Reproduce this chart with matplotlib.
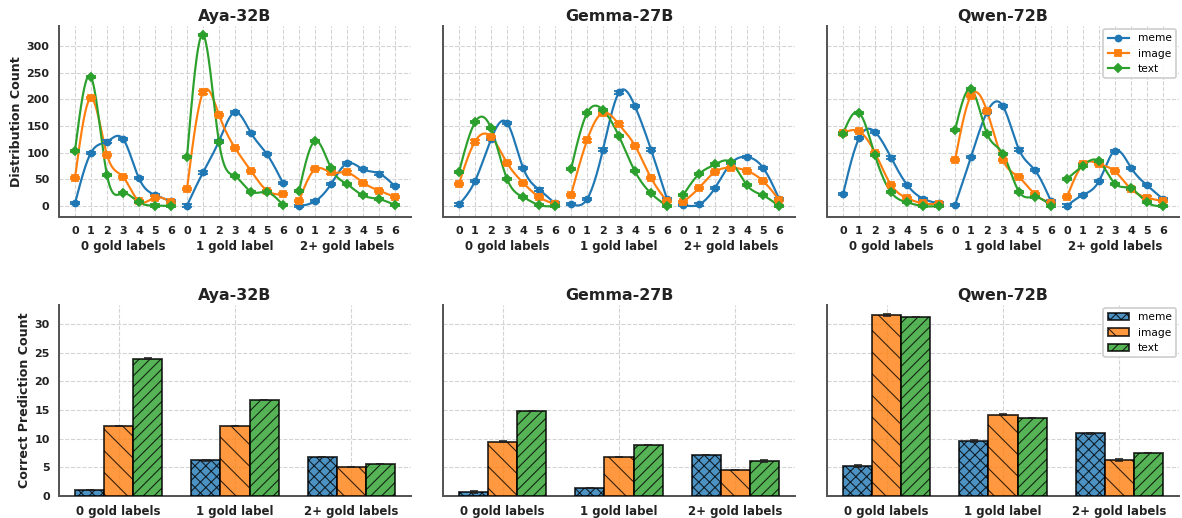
import numpy as np
import matplotlib
matplotlib.use("Agg")
import matplotlib.pyplot as plt
from matplotlib.lines import Line2D

# ---------------- data ----------------
MODELS = ["Aya-32B", "Gemma-27B", "Qwen-72B"]
GROUPS = ["0 gold labels", "1 gold label", "2+ gold labels"]
SERIES = ["meme", "image", "text"]
COUNT_LABELS = ["0", "1", "2", "3", "4", "5", "6"]

aya_meme = [5, 100, 121, 126, 52, 21, 9, 1, 63, 122, 176, 137, 97, 43, 0, 9, 41, 80, 69, 61, 37]
aya_image = [53, 202, 96, 55, 9, 16, 7, 32, 213, 171, 109, 66, 29, 22, 10, 69, 63, 63, 44, 29, 17]
aya_text = [104, 242, 58, 24, 7, 1, 0, 92, 321, 120, 56, 27, 26, 2, 28, 122, 71, 41, 20, 13, 2]

gemma_meme = [3, 47, 125, 156, 72, 31, 5, 4, 13, 106, 213, 187, 106, 13, 2, 3, 34, 80, 92, 72, 14]
gemma_image = [42, 121, 130, 81, 44, 17, 4, 21, 123, 175, 153, 113, 53, 9, 7, 34, 64, 72, 66, 47, 12]
gemma_text = [64, 157, 146, 51, 17, 2, 0, 69, 174, 180, 131, 65, 24, 0, 20, 60, 78, 82, 39, 20, 0]

qwen_meme = [22, 127, 139, 91, 40, 14, 5, 2, 92, 176, 187, 106, 67, 9, 1, 21, 47, 104, 72, 39, 13]
qwen_image = [137, 140, 100, 40, 15, 5, 4, 86, 207, 178, 86, 54, 22, 6, 17, 78, 79, 65, 32, 16, 9]
qwen_text = [136, 175, 95, 26, 7, 0, 0, 142, 219, 136, 98, 27, 17, 1, 51, 76, 84, 42, 33, 7, 0]

DIST_ERR = 2.0

aya_correct_meme = [1.1, 6.2, 6.85]
aya_correct_image = [12.2, 12.2, 5.1]
aya_correct_text = [23.9, 16.7, 5.5]
aya_err_meme = [0.0, 0.1, 0.0]
aya_err_image = [0.0, 0.0, 0.0]
aya_err_text = [0.1, 0.0, 0.0]

gemma_correct_meme = [0.7, 1.45, 7.2]
gemma_correct_image = [9.46, 6.8, 4.47]
gemma_correct_text = [14.74, 8.94, 6.04]
gemma_err_meme = [0.15, 0.0, 0.0]
gemma_err_image = [0.1, 0.0, 0.0]
gemma_err_text = [0.0, 0.0, 0.15]

qwen_correct_meme = [5.22, 9.58, 10.9]
qwen_correct_image = [31.5, 14.16, 6.27]
qwen_correct_text = [31.2, 13.58, 7.43]
qwen_err_meme = [0.1, 0.2, 0.15]
qwen_err_image = [0.15, 0.05, 0.15]
qwen_err_text = [0.0, 0.0, 0.0]

dist = {
    "Aya-32B": [aya_meme, aya_image, aya_text],
    "Gemma-27B": [gemma_meme, gemma_image, gemma_text],
    "Qwen-72B": [qwen_meme, qwen_image, qwen_text],
}
correct = {
    "Aya-32B": [aya_correct_meme, aya_correct_image, aya_correct_text],
    "Gemma-27B": [gemma_correct_meme, gemma_correct_image, gemma_correct_text],
    "Qwen-72B": [qwen_correct_meme, qwen_correct_image, qwen_correct_text],
}
correct_err = {
    "Aya-32B": [aya_err_meme, aya_err_image, aya_err_text],
    "Gemma-27B": [gemma_err_meme, gemma_err_image, gemma_err_text],
    "Qwen-72B": [qwen_err_meme, qwen_err_image, qwen_err_text],
}

COLORS = ["#1f77b4", "#ff7f0e", "#2ca02c"]
MARKERS = ["o", "s", "D"]
HATCHES = ["xxxx", "\\\\", "////"]

DPI = 130
W, H = 1182, 518
plt.rcParams.update({
    "font.family": "DejaVu Sans",
    "hatch.linewidth": 0.6,
    "axes.edgecolor": "#555555",
    "axes.linewidth": 1.1,
})

fig = plt.figure(figsize=(W / DPI, H / DPI), dpi=DPI)

TICK_FS = 6.2
GROUP_FS = 6.5
TITLE_FS = 8.8
LABEL_FS = 7.0
LEG_FS = 5.9


def px_axes(left, top, width, height):
    return fig.add_axes([left / W, 1 - (top + height) / H, width / W, height / H])


def smooth(y, n=40):
    y = np.asarray(y, float)
    m = len(y)
    A = np.zeros((m, m))
    b = np.zeros(m)
    A[0, 0] = 1
    A[-1, -1] = 1
    for i in range(1, m - 1):
        A[i, i - 1:i + 2] = [1, 4, 1]
        b[i] = 6 * (y[i + 1] - 2 * y[i] + y[i - 1])
    M = np.linalg.solve(A, b)
    t = np.linspace(0, m - 1, n * (m - 1) + 1)
    i = np.minimum(t.astype(int), m - 2)
    s = t - i
    val = ((1 - s) * y[i] + s * y[i + 1]
           + ((1 - s) ** 3 - (1 - s)) * M[i] / 6 + (s ** 3 - s) * M[i + 1] / 6)
    return t, val


def style_axes(ax, pad):
    for side in ["top", "right"]:
        ax.spines[side].set_visible(False)
    ax.grid(True, linestyle="--", color="#d3d3d3", linewidth=0.6)
    ax.set_axisbelow(True)
    ax.tick_params(length=0, pad=pad, labelsize=TICK_FS)
    for lab in ax.get_xticklabels() + ax.get_yticklabels():
        lab.set_fontweight("bold")
        lab.set_color("#222222")


lefts = [59, 443, 827]
AX_W = 352
ncount = len(COUNT_LABELS)

top_axes = []
for k, model in enumerate(MODELS):
    ax = px_axes(lefts[k], 26, AX_W, 190.5)
    top_axes.append(ax)
    for s, (name, vals) in enumerate(zip(SERIES, dist[model])):
        for g in range(len(GROUPS)):
            seg = vals[g * ncount:(g + 1) * ncount]
            x0 = g * ncount
            t, v = smooth(seg)
            ax.plot(t + x0, v, color=COLORS[s], lw=1.2, zorder=3)
            ax.errorbar(np.arange(ncount) + x0, seg, yerr=DIST_ERR,
                        fmt=MARKERS[s], color=COLORS[s], ms=3.3,
                        capsize=2.8, elinewidth=1.0, capthick=1.0, zorder=4)
    positions = np.arange(ncount * len(GROUPS))
    ax.set_xticks(positions)
    ax.set_xticklabels(COUNT_LABELS * len(GROUPS))
    ax.set_xlim(-1, positions[-1] + 1)
    ax.set_ylim(-19.5, 337.5)
    ax.set_yticks([0, 50, 100, 150, 200, 250, 300])
    style_axes(ax, 5.3)
    if k > 0:
        ax.set_yticklabels([])
    else:
        ax.set_ylabel("Distribution Count", fontsize=LABEL_FS, fontweight="bold",
                      color="#222222", labelpad=2)
    for g, gname in enumerate(GROUPS):
        ax.text(g * ncount + (ncount - 1) / 2, -0.157, gname,
                transform=ax.get_xaxis_transform(), ha="center", va="center",
                fontsize=GROUP_FS, fontweight="bold", color="#222222")
    ax.set_title(model, fontsize=TITLE_FS, fontweight="bold", color="#222222", pad=3)

handles = [Line2D([], [], color=COLORS[s], marker=MARKERS[s], lw=1.2, ms=3.3)
           for s in range(len(SERIES))]
top_axes[2].legend(handles, SERIES, loc="upper right", fontsize=LEG_FS,
                   borderaxespad=0.3, framealpha=0.9, edgecolor="#cccccc")

BAR_W = 0.25
for k, model in enumerate(MODELS):
    ax = px_axes(lefts[k], 305, AX_W, 191)
    xg = np.arange(len(GROUPS))
    for s, name in enumerate(SERIES):
        ax.bar(xg + (s - 1) * BAR_W, correct[model][s], BAR_W,
               yerr=correct_err[model][s], color=COLORS[s], alpha=0.8,
               hatch=HATCHES[s], edgecolor="black", linewidth=1.0, label=name,
               error_kw=dict(ecolor="#222222", capsize=2.2, elinewidth=0.9, capthick=0.9),
               zorder=3)
    ax.set_xticks(xg)
    ax.set_xticklabels(GROUPS)
    ax.set_ylim(0, 33.3)
    ax.set_yticks([0, 5, 10, 15, 20, 25, 30])
    style_axes(ax, 5.0)
    for lab in ax.get_xticklabels():
        lab.set_fontsize(GROUP_FS)
    if k > 0:
        ax.set_yticklabels([])
    else:
        ax.set_ylabel("Correct Prediction Count", fontsize=LABEL_FS, fontweight="bold",
                      color="#222222", labelpad=2)
    ax.set_title(model, fontsize=TITLE_FS, fontweight="bold", color="#222222", pad=3)
    if k == 2:
        ax.legend(loc="upper right", fontsize=LEG_FS, borderaxespad=0.3,
                  framealpha=0.9, edgecolor="#cccccc")

fig.savefig("out.png", dpi=DPI)
